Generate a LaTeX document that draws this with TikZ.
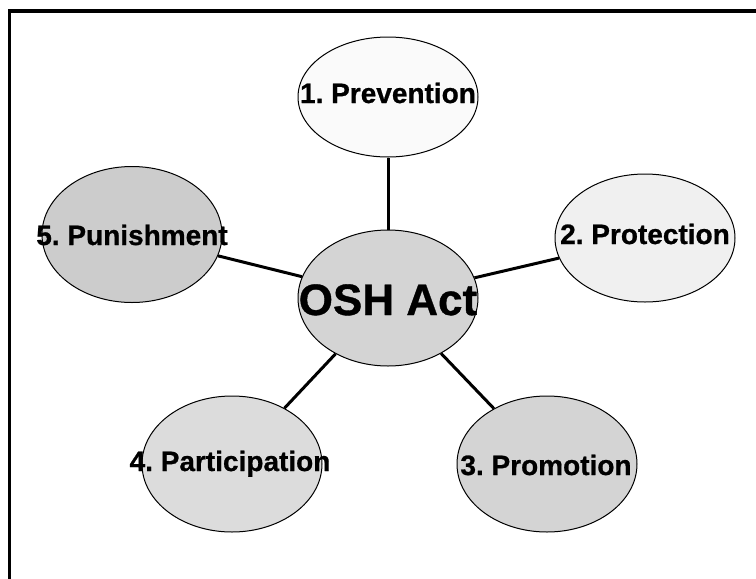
\documentclass[tikz,border=0pt]{standalone}
\usepackage{fontspec}
\setmainfont{Liberation Sans}
\newfontfamily\heavyfont{Liberation Sans Bold}[FakeBold=0.8]
\usetikzlibrary{shapes.geometric}
\definecolor{cA}{HTML}{FAFAFA}
\definecolor{cB}{HTML}{F0F0F0}
\definecolor{cC}{HTML}{D4D4D4}
\definecolor{cD}{HTML}{CCCCCC}
\definecolor{cE}{HTML}{DCDCDC}
\tikzset{
  bubble/.style={ellipse, draw=black, line width=1pt, inner sep=0pt,
    minimum width=180pt, minimum height=136pt},
  lbl/.style={anchor=base, inner sep=0pt, font=\fontsize{28}{30}\selectfont\heavyfont\frenchspacing},
  link/.style={line width=3pt, black}
}
\begin{document}
\begin{tikzpicture}[x=1pt,y=-1pt]
\useasboundingbox (0,0) rectangle (756,579);
\fill[white] (0,0) rectangle (756,579);
\draw[line width=3.5pt] (800,11) -- (9.7,11) -- (9.7,620);
% ellipses
\node[bubble, fill=cC] (osh) at (388,298) {};
\node[bubble, fill=cA, minimum height=120pt] (prev) at (388,97) {};
\node[bubble, fill=cB, minimum height=128pt] (prot) at (645,238) {};
\node[bubble, fill=cC] (prom) at (547,464) {};
\node[bubble, fill=cE] (part) at (232,464) {};
\node[bubble, fill=cD] (pun) at (132,234.5) {};
% connectors
\draw[link] (osh) -- (prev);
\draw[link] (osh) -- (prot);
\draw[link] (osh) -- (prom);
\draw[link] (osh) -- (part);
\draw[link] (osh) -- (pun);
% labels
\node[lbl, font=\fontsize{44}{48}\selectfont\heavyfont] (toshs) at (388,315) {OSH Act};
\node[lbl] (tprev) at (388,103) {1. Prevention};
\node[lbl] (tprot) at (645,244) {2. Protection};
\node[lbl] (tprom) at (546,475) {3. Promotion};
\node[lbl] (tpart) at (230,471) {4. Participation};
\node[lbl] (tpun) at (132,245) {5. Punishment};
\end{tikzpicture}
\end{document}
